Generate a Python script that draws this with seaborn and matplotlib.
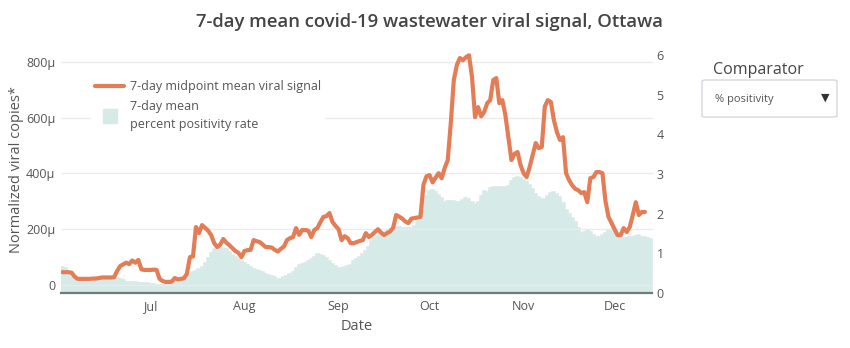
import numpy as np
import pandas as pd
import matplotlib
matplotlib.use("Agg")
import matplotlib.pyplot as plt
import matplotlib.dates as mdates
import seaborn as sns
from matplotlib.lines import Line2D
from matplotlib.patches import FancyBboxPatch

# ---------------- data ----------------
signal_start = "2022-06-02"
signal_values = [
    46, 46, 46, 44, 30, 22, 22, 22, 22, 22,
    23, 23, 25, 27, 27, 27, 27, 28, 50, 68,
    74, 80, 75, 88, 80, 90, 56, 54, 54, 54,
    55, 54, 22, 14, 11, 11, 12, 25, 20, 22,
    24, 40, 100, 102, 208, 186, 215, 205, 195, 179,
    150, 136, 145, 165, 152, 143, 132, 122, 115, 100,
    122, 125, 126, 161, 157, 154, 145, 136, 136, 134,
    126, 120, 130, 138, 161, 168, 172, 204, 180, 197,
    197, 195, 172, 197, 204, 225, 244, 247, 258, 226,
    212, 200, 161, 175, 168, 150, 150, 154, 158, 161,
    186, 172, 180, 190, 200, 188, 179, 186, 192, 205,
    251, 245, 238, 228, 222, 238, 240, 242, 244, 360,
    390, 394, 368, 385, 401, 383, 420, 448, 580, 735,
    789, 814, 806, 817, 824, 746, 602, 638, 605, 620,
    652, 663, 735, 742, 652, 663, 609, 527, 448, 470,
    477, 430, 401, 387, 423, 466, 509, 491, 495, 640,
    663, 656, 591, 548, 520, 530, 401, 376, 358, 345,
    340, 330, 333, 297, 383, 387, 405, 405, 401, 300,
    244, 222, 200, 179, 179, 204, 190, 208, 251, 297,
    251, 262, 262,
]

positivity_start = "2022-06-02"
positivity_values = [
    0.66, 0.63, 0.50, 0.40, 0.36, 0.35, 0.34, 0.30, 0.28, 0.28,
    0.28, 0.30, 0.33, 0.33, 0.33, 0.34, 0.36, 0.38, 0.38, 0.36,
    0.32, 0.28, 0.28, 0.28, 0.27, 0.26, 0.25, 0.25, 0.24, 0.22,
    0.22, 0.21, 0.20, 0.20, 0.20, 0.21, 0.23, 0.28, 0.31, 0.34,
    0.38, 0.42, 0.46, 0.53, 0.56, 0.60, 0.66, 0.75, 0.88, 1.02,
    1.10, 1.13, 1.16, 1.14, 1.10, 1.03, 0.97, 0.92, 0.86, 0.80,
    0.75, 0.70, 0.66, 0.60, 0.58, 0.55, 0.52, 0.48, 0.45, 0.42,
    0.40, 0.36, 0.36, 0.40, 0.42, 0.48, 0.53, 0.64, 0.70, 0.72,
    0.76, 0.80, 0.86, 0.92, 0.98, 0.97, 0.94, 0.88, 0.80, 0.74,
    0.67, 0.64, 0.63, 0.66, 0.68, 0.70, 0.80, 0.86, 0.92, 0.98,
    1.05, 1.15, 1.30, 1.38, 1.44, 1.50, 1.54, 1.60, 1.62, 1.65,
    1.66, 1.66, 1.64, 1.63, 1.63, 1.63, 1.68, 1.90, 2.02, 2.30,
    2.45, 2.58, 2.60, 2.55, 2.48, 2.40, 2.30, 2.31, 2.32, 2.32,
    2.29, 2.29, 2.34, 2.40, 2.36, 2.30, 2.24, 2.30, 2.45, 2.58,
    2.55, 2.64, 2.67, 2.67, 2.67, 2.67, 2.67, 2.70, 2.82, 2.90,
    2.92, 2.90, 2.85, 2.80, 2.72, 2.62, 2.50, 2.42, 2.38, 2.38,
    2.44, 2.52, 2.54, 2.50, 2.42, 2.28, 2.08, 1.98, 1.90, 1.80,
    1.65, 1.52, 1.54, 1.60, 1.54, 1.45, 1.40, 1.40, 1.46, 1.52,
    1.58, 1.62, 1.55, 1.52, 1.45, 1.38, 1.38, 1.40, 1.42, 1.44,
    1.45, 1.42, 1.40, 1.38, 1.36,
]

left_ticks = [0, 200, 400, 600, 800]
left_tick_labels = ["0", "200\u03bc", "400\u03bc", "600\u03bc", "800\u03bc"]
right_ticks = [0, 1, 2, 3, 4, 5, 6]

title = "7-day mean covid-19 wastewater viral signal, Ottawa"
line_label = "7-day midpoint mean viral signal"
bar_label = "7-day mean\npercent positivity rate"
y_label = "Normalized viral copies*"
x_label = "Date"

# ---------------- frames ----------------
sig_df = pd.DataFrame({
    "date": pd.date_range(signal_start, periods=len(signal_values), freq="D"),
    "signal": signal_values,
})
pos_df = pd.DataFrame({
    "date": pd.date_range(positivity_start, periods=len(positivity_values), freq="D"),
    "positivity": positivity_values,
})

# ---------------- style ----------------
sns.set_theme(style="white")
plt.rcParams["font.family"] = ["Open Sans", "DejaVu Sans"]

ORANGE = "#E47C56"
TEAL = "#D6EAE8"
GRID = "#EBEBEB"
TXT = "#555555"

W, H = 850, 348
fig = plt.figure(figsize=(W / 100, H / 100), dpi=100)
fig.patch.set_facecolor("white")

x0, x1, yb, yt = 61, 652.5, 293, 53
ax2 = fig.add_axes([x0 / W, 1 - yb / H, (x1 - x0) / W, (yb - yt) / H])
ax = ax2.twinx()
ax.yaxis.tick_left()
ax.yaxis.set_label_position("left")
ax2.yaxis.tick_right()
ax.set_zorder(ax2.get_zorder() + 1)
ax.patch.set_visible(False)

# bars (right axis)
ax2.bar(pos_df["date"], pos_df["positivity"], width=1.0, align="center",
        color=TEAL, edgecolor=TEAL, linewidth=1.1, zorder=1)

# line (left axis)
sns.lineplot(data=sig_df, x="date", y="signal", ax=ax, color=ORANGE,
             linewidth=3.0, zorder=3, legend=False)

xmin = pd.Timestamp(positivity_start) - pd.Timedelta(hours=12)
xmax = pos_df["date"].iloc[-1] + pd.Timedelta(hours=12)
ax2.set_xlim(xmin, xmax)

ax.set_ylim(-28.7, 832)
ax2.set_ylim(0, 6.05)

ax.set_yticks(left_ticks)
ax.set_yticklabels(left_tick_labels)
ax2.set_yticks(right_ticks)
ax2.set_yticklabels([str(t) for t in right_ticks])

ax.grid(axis="y", color=GRID, linewidth=1.0, zorder=0)
ax.grid(axis="x", visible=False)
ax2.grid(False)

ax2.xaxis.set_major_locator(mdates.MonthLocator())
ax2.xaxis.set_major_formatter(mdates.DateFormatter("%b"))

for a in (ax, ax2):
    for s in a.spines.values():
        s.set_visible(False)
ax.spines["bottom"].set_visible(True)
ax.spines["bottom"].set_color("#6E7B7B")
ax.spines["bottom"].set_linewidth(1.6)

ax.tick_params(axis="y", length=0, pad=4, labelsize=9, labelcolor=TXT)
ax2.tick_params(axis="y", length=0, pad=3, labelsize=9, labelcolor=TXT)
ax2.tick_params(axis="x", length=0, pad=5, labelsize=9, labelcolor=TXT)
ax.tick_params(axis="x", length=0, labelbottom=False)
ax.set_xlabel("")
ax.set_ylabel("")
ax2.set_xlabel("")

# axis titles & title
fig.text(17 / W, 1 - 170 / H, y_label, rotation=90, ha="center", va="center",
         fontsize=10.5, color=TXT)
fig.text(357 / W, 1 - 327 / H, x_label, ha="center", va="center",
         fontsize=10.5, color=TXT)
fig.text(430 / W, 1 - 22 / H, title, ha="center", va="center",
         fontsize=13.3, fontweight="semibold", color="#444444")

# legend
handles = [
    Line2D([], [], color=ORANGE, linewidth=3.0),
    Line2D([], [], marker="s", linestyle="none", markersize=9.5,
           markerfacecolor=TEAL, markeredgecolor=TEAL),
]
leg = ax.legend(handles, [line_label, bar_label], loc="upper left",
                bbox_to_anchor=(91 / W, 1 - 76 / H), bbox_transform=fig.transFigure,
                frameon=True, facecolor="white", edgecolor="none", framealpha=1,
                fancybox=False, fontsize=9, handlelength=2.3, handletextpad=0.45,
                labelspacing=0.55, borderpad=0.35, borderaxespad=0)
for t in leg.get_texts():
    t.set_color(TXT)
    t.set_linespacing(1.45)
leg.set_zorder(10)

# comparator dropdown
fig.text(713 / W, 1 - 70 / H, "Comparator", ha="left", va="center",
         fontsize=11.5, color="#444444")
box = FancyBboxPatch((702 / W, 1 - 117 / H), (837 - 702) / W, 37 / H,
                     boxstyle="round,pad=0,rounding_size=0.004",
                     transform=fig.transFigure, facecolor="white",
                     edgecolor="#D3D7DD", linewidth=1.0)
fig.patches.append(box)
fig.text(715 / W, 1 - 99 / H, "% positivity", ha="left", va="center",
         fontsize=8, color="#555555")
fig.text(825 / W, 1 - 98 / H, "\u25bc", ha="center", va="center",
         fontsize=8, color="#333333", family=["DejaVu Sans"])

fig.savefig("out.png", dpi=100)
